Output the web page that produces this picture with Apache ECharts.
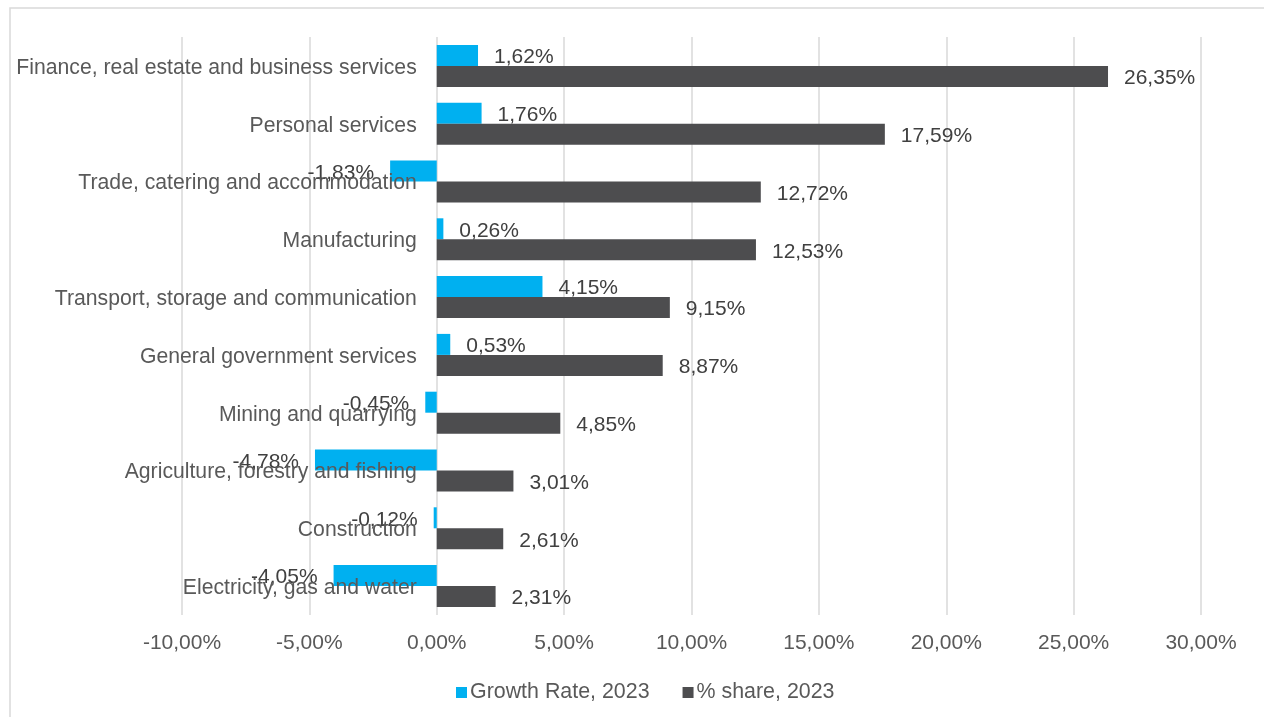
<!DOCTYPE html>
<html>
<head>
<meta charset="utf-8">
<script src="https://cdn.jsdelivr.net/npm/echarts@6/dist/echarts.min.js"></script>
<style>
  html, body { margin: 0; padding: 0; background: #fff; }
  #chart { width: 1264px; height: 717px; }
</style>
</head>
<body>
<div id="chart"></div>
<script>
// Sectors, listed top to bottom
const sectors = [
  'Finance, real estate and business services',
  'Personal services',
  'Trade, catering and accommodation',
  'Manufacturing',
  'Transport, storage and communication',
  'General government services',
  'Mining and quarrying',
  'Agriculture, forestry and fishing',
  'Construction',
  'Electricity, gas and water'
];
// Growth rate in 2023 (%)
const growthRate = [1.62, 1.76, -1.83, 0.26, 4.15, 0.53, -0.45, -4.78, -0.12, -4.05];
// Share of total in 2023 (%)
const shareOfTotal = [26.35, 17.59, 12.72, 12.53, 9.15, 8.87, 4.85, 3.01, 2.61, 2.31];
// Value axis ticks
const axisTicks = { min: -10, max: 30, interval: 5 };

const seriesNames = ['Growth Rate, 2023', '% share, 2023'];
const textColor = '#595959';
const fontFamily = 'Liberation Sans, Arial, sans-serif';
const fontSize = 21;

const gridLeft = 182;
const gridRight = 63;
const chartWidth = 1264;

function pct(v, digits) {
  return v.toFixed(digits).replace('.', ',') + '%';
}

function barData(values) {
  return values.map(v => ({
    value: v,
    label: { position: v < 0 ? 'left' : 'right' }
  }));
}

// Category labels sit beside the 0% line rather than the grid's left edge
const plotWidth = chartWidth - gridLeft - gridRight;
const zeroOffset = plotWidth * (0 - axisTicks.min) / (axisTicks.max - axisTicks.min);

const valueLabel = {
  show: true,
  distance: 16,
  offset: [0, 2],
  color: '#404040',
  fontSize: fontSize,
  formatter: p => pct(p.value, 2)
};

const chart = echarts.init(document.getElementById('chart'));
chart.setOption({
  animation: false,
  textStyle: { fontFamily: fontFamily },
  graphic: [{
    type: 'rect',
    shape: { x: 10, y: 8, width: 1300, height: 760 },
    style: { fill: 'none', stroke: '#d9d9d9', lineWidth: 1.5 },
    silent: true,
    z: -10
  }],
  legend: {
    data: seriesNames,
    left: 451,
    top: 677,
    itemWidth: 11,
    itemHeight: 11,
    itemGap: 33,
    icon: 'rect',
    textStyle: { color: textColor, fontSize: 21.4, fontFamily: fontFamily, padding: [0, 0, 0, -2] }
  },
  grid: { left: gridLeft, right: gridRight, top: 37, bottom: 102, containLabel: false, outerBoundsMode: 'none' },
  xAxis: {
    type: 'value',
    min: axisTicks.min,
    max: axisTicks.max,
    interval: axisTicks.interval,
    axisLine: { show: false },
    axisTick: { show: false },
    splitLine: { lineStyle: { color: '#d9d9d9', width: 1.5 } },
    axisLabel: {
      color: textColor,
      fontSize: fontSize,
      margin: 18,
      formatter: v => pct(v, 2)
    }
  },
  yAxis: {
    type: 'category',
    data: sectors,
    inverse: true,
    z: 5,
    offset: -zeroOffset,
    axisLine: { show: false, onZero: false },
    axisTick: { show: false },
    axisLabel: {
      margin: 20,
      formatter: v => '{c|' + v + '}',
      rich: {
        c: {
          color: textColor,
          fontSize: 21.2,
          fontFamily: fontFamily,
          padding: [4, 0, 0, 0]
        }
      }
    }
  },
  series: [
    {
      name: seriesNames[0],
      type: 'bar',
      data: barData(growthRate),
      barWidth: 21,
      barGap: '0%',
      itemStyle: { color: '#00b0f0' },
      label: valueLabel
    },
    {
      name: seriesNames[1],
      type: 'bar',
      data: barData(shareOfTotal),
      barWidth: 21,
      barGap: '0%',
      itemStyle: { color: '#4d4d4f' },
      label: valueLabel
    }
  ]
});
</script>
</body>
</html>
